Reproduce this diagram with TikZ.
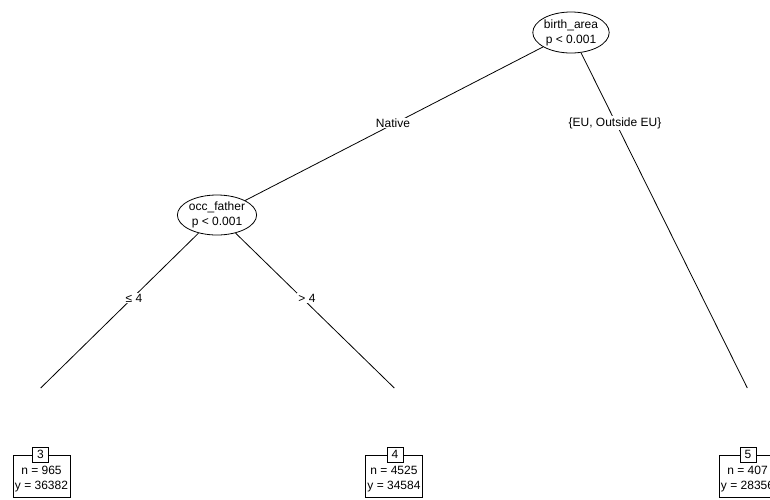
\documentclass[tikz,border=0pt]{standalone}
\usepackage{fontspec}
\setmainfont{Liberation Sans}
\usetikzlibrary{shapes.geometric}
\tikzset{
  base/.style={font=\fontsize{12}{15}\selectfont, align=center},
  inner/.style={base, ellipse, draw, line width=0.8pt, inner sep=0pt, fill=white},
  edgelab/.style={base, fill=white, inner sep=1pt},
  termbox/.style={draw, line width=0.8pt, minimum width=57pt, minimum height=42pt, inner sep=0pt},
  termtext/.style={base, inner sep=0pt},
  idbox/.style={base, draw, fill=white, line width=0.8pt, minimum width=16pt, minimum height=15pt, inner sep=0pt},
  edge/.style={line width=0.8pt}
}
\begin{document}
\begin{tikzpicture}[x=1pt,y=-1pt]
\useasboundingbox (0,0) rectangle (770,499);
\clip (0,0) rectangle (770,499);
% inner nodes
\node[inner, minimum width=73pt, minimum height=41pt] (n1) at (571,32.5) {birth\_area\\p < 0.001};
\node[inner, minimum width=71pt, minimum height=40pt] (n2) at (217,215) {occ\_father\\p < 0.001};
% edge ends
\coordinate (e3) at (40.7,388);
\coordinate (e4) at (394.3,388);
\coordinate (e5) at (747.3,388);
% edges
\draw[edge] (n1) -- (n2);
\draw[edge] (n1) -- (e5);
\draw[edge] (n2) -- (e3);
\draw[edge] (n2) -- (e4);
% edge labels
\node[edgelab] (l12) at (393,123) {Native};
\node[edgelab] (l15) at (615,123) {\{EU, Outside EU\}};
\node[edgelab] (l23) at (134,298) {≤ 4};
\node[edgelab] (l24) at (307,298) {> 4};
% terminal nodes
\node[termbox] (t3) at (41.5,476) {};
\node[termtext] (t3txt) at (41.5,479.5) {n = 965\\y = 36382};
\node[idbox] (t3id) at (40.5,454.5) {3};
\node[termbox] (t4) at (394,476) {};
\node[termtext] (t4txt) at (394,479.5) {n = 4525\\y = 34584};
\node[idbox] (t4id) at (395,454.5) {4};
\node[termbox] (t5) at (747.5,476) {};
\node[termtext] (t5txt) at (747.5,479.5) {n = 407\\y = 28356};
\node[idbox] (t5id) at (748,454.5) {5};
\end{tikzpicture}
\end{document}
